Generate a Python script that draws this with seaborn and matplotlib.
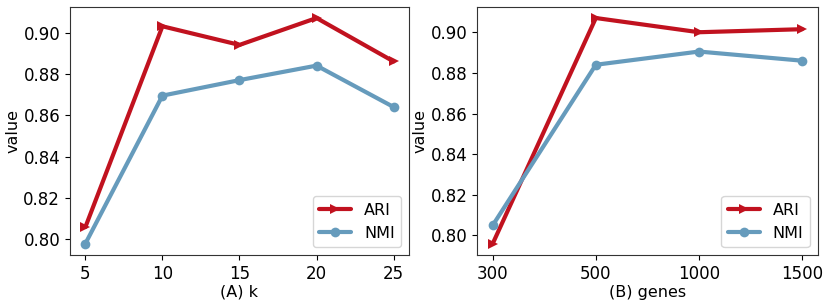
import matplotlib
matplotlib.use("Agg")
import matplotlib.pyplot as plt
import seaborn as sns
import pandas as pd

k_values = [5, 10, 15, 20, 25]
ari_k = [0.806, 0.903, 0.894, 0.907, 0.886]
nmi_k = [0.798, 0.8695, 0.877, 0.884, 0.864]

gene_labels = ["300", "500", "1000", "1500"]
ari_genes = [0.796, 0.907, 0.900, 0.9015]
nmi_genes = [0.805, 0.884, 0.8905, 0.886]

RED = "#c1121f"
BLUE = "#669bbc"

sns.set_style("ticks")
plt.rcParams["font.family"] = ["DejaVu Sans"]
plt.rcParams["font.size"] = 12
for key in ["text.color", "axes.labelcolor", "xtick.color", "ytick.color"]:
    plt.rcParams[key] = "black"

fig = plt.figure(figsize=(8.3, 3.06), dpi=100)
ax1 = fig.add_axes([0.0843, 0.167, 0.4085, 0.811])
ax2 = fig.add_axes([0.575, 0.167, 0.410, 0.811])

df1 = pd.DataFrame({
    "x": k_values * 2,
    "value": ari_k + nmi_k,
    "metric": ["ARI"] * len(k_values) + ["NMI"] * len(k_values),
})
df2 = pd.DataFrame({
    "x": gene_labels * 2,
    "value": ari_genes + nmi_genes,
    "metric": ["ARI"] * len(gene_labels) + ["NMI"] * len(gene_labels),
})

for ax, df, xlabel in [(ax1, df1, "(A) k"), (ax2, df2, "(B) genes")]:
    sns.lineplot(data=df, x="x", y="value", hue="metric", style="metric",
                 markers={"ARI": ">", "NMI": "o"}, dashes=False,
                 palette={"ARI": RED, "NMI": BLUE}, linewidth=3,
                 markersize=7, markeredgewidth=0, ax=ax, sort=False)
    ax.set_xlabel(xlabel, fontsize=11.5, color="black", labelpad=1.5)
    ax.set_ylabel("value", fontsize=11.5, color="black", labelpad=2)
    ax.set_yticks([0.80, 0.82, 0.84, 0.86, 0.88, 0.90])
    ax.set_yticklabels(["0.80", "0.82", "0.84", "0.86", "0.88", "0.90"])
    ax.tick_params(labelsize=12, colors="black")
    leg = ax.legend(loc="lower right", fontsize=11.5, frameon=True)
    for t in leg.get_texts():
        t.set_color("black")
    for line in leg.get_lines():
        line.set_linewidth(3)
    for sp in ax.spines.values():
        sp.set_color("#333333")

ax1.set_xticks(k_values)

fig.savefig("out.png", dpi=100)
